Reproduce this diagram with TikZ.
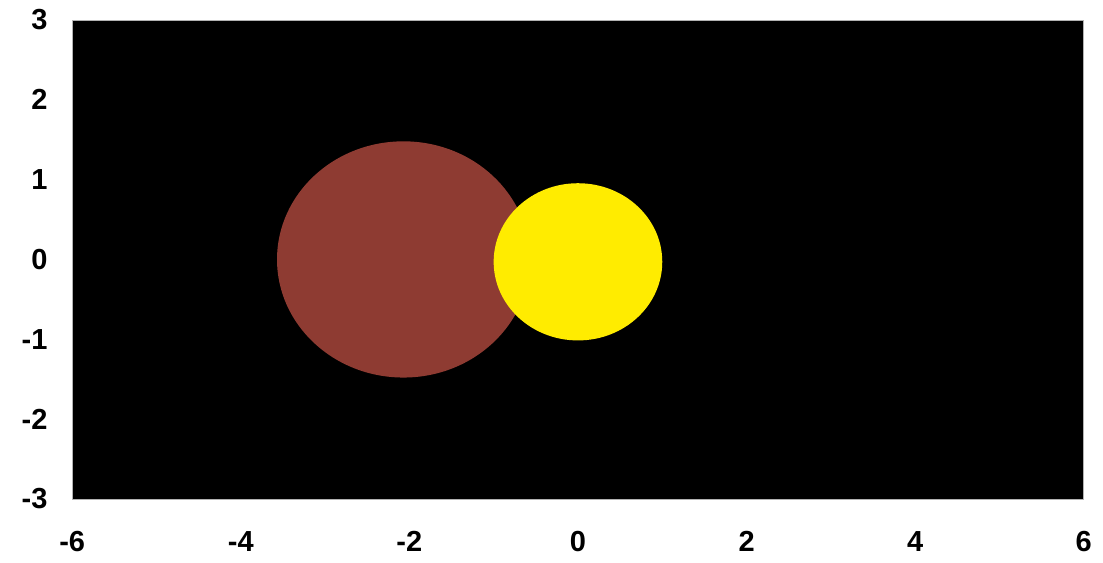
\documentclass[tikz,border=0pt]{standalone}
\usepackage{fontspec}
\setmainfont{Liberation Sans}
\definecolor{brn}{RGB}{142,59,50}
\definecolor{ylw}{RGB}{255,236,0}
\begin{document}
\begin{tikzpicture}[x=84.3pt,y=79.8pt,
  tick/.style={font=\fontsize{29}{29}\selectfont\bfseries, inner sep=0pt}]
\useasboundingbox[fill=white] (-6.856,-3.792) rectangle (6.228,3.251);
\fill[black] (-6,-3) rectangle (6,3);
\draw[gray!60, line width=0.6pt] (-6,-3) rectangle (6,3);
\fill[brn] (-2.07,0.0) ellipse [x radius=1.5, y radius=1.48];
\fill[ylw] (0,-0.03) ellipse [x radius=1.0, y radius=0.985];
\foreach \v in {-3,...,3}
  \node[tick, anchor=east] (y\v) at (-6.29,\v) {\v};
\foreach \v in {-6,-4,...,6}
  \node[tick] (x\v) at (\v,-3.53) {\v};
\end{tikzpicture}
\end{document}
